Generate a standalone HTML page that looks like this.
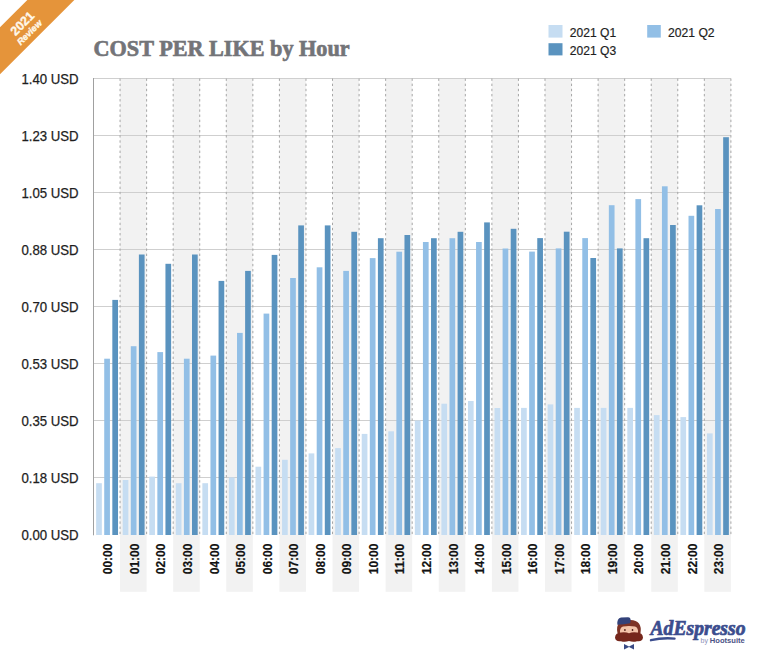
<!DOCTYPE html>
<html><head><meta charset="utf-8">
<style>
html,body{margin:0;padding:0;background:#fff;}
body{width:768px;height:655px;overflow:hidden;position:relative;font-family:"Liberation Sans",sans-serif;}
svg{position:absolute;left:0;top:0;}
.yl{font-family:"Liberation Sans",sans-serif;font-size:14.2px;fill:#1e1e1e;stroke:#1e1e1e;stroke-width:0.25px;}
.xl{font-family:"Liberation Sans",sans-serif;font-size:13.2px;font-weight:bold;fill:#111;stroke:#111;stroke-width:0.2px;}
.ttl{font-family:"Liberation Serif",serif;font-size:23.5px;font-weight:bold;fill:#737478;stroke:#737478;stroke-width:0.7px;}
.lg{font-family:"Liberation Sans",sans-serif;font-size:12.4px;fill:#1e1e1e;stroke:#1e1e1e;stroke-width:0.2px;}
</style></head><body>
<svg width="768" height="655" viewBox="0 0 768 655">
<rect width="768" height="655" fill="#fff"/>
<rect x="120.06" y="78.50" width="26.56" height="513.30" fill="#F2F2F2"/>
<rect x="173.18" y="78.50" width="26.56" height="513.30" fill="#F2F2F2"/>
<rect x="226.29" y="78.50" width="26.56" height="513.30" fill="#F2F2F2"/>
<rect x="279.41" y="78.50" width="26.56" height="513.30" fill="#F2F2F2"/>
<rect x="332.52" y="78.50" width="26.56" height="513.30" fill="#F2F2F2"/>
<rect x="385.64" y="78.50" width="26.56" height="513.30" fill="#F2F2F2"/>
<rect x="438.76" y="78.50" width="26.56" height="513.30" fill="#F2F2F2"/>
<rect x="491.88" y="78.50" width="26.56" height="513.30" fill="#F2F2F2"/>
<rect x="544.99" y="78.50" width="26.56" height="513.30" fill="#F2F2F2"/>
<rect x="598.11" y="78.50" width="26.56" height="513.30" fill="#F2F2F2"/>
<rect x="651.23" y="78.50" width="26.56" height="513.30" fill="#F2F2F2"/>
<rect x="704.34" y="78.50" width="26.56" height="513.30" fill="#F2F2F2"/>
<line x1="93.50" y1="78.50" x2="730.90" y2="78.50" stroke="#CFCFCF" stroke-width="1"/>
<line x1="93.50" y1="135.50" x2="730.90" y2="135.50" stroke="#CFCFCF" stroke-width="1"/>
<line x1="93.50" y1="192.50" x2="730.90" y2="192.50" stroke="#CFCFCF" stroke-width="1"/>
<line x1="93.50" y1="249.50" x2="730.90" y2="249.50" stroke="#CFCFCF" stroke-width="1"/>
<line x1="93.50" y1="306.50" x2="730.90" y2="306.50" stroke="#CFCFCF" stroke-width="1"/>
<line x1="93.50" y1="363.50" x2="730.90" y2="363.50" stroke="#CFCFCF" stroke-width="1"/>
<line x1="93.50" y1="420.50" x2="730.90" y2="420.50" stroke="#CFCFCF" stroke-width="1"/>
<line x1="93.50" y1="477.50" x2="730.90" y2="477.50" stroke="#CFCFCF" stroke-width="1"/>
<line x1="120.06" y1="78.50" x2="120.06" y2="535.00" stroke="#A6A6A6" stroke-width="1" stroke-dasharray="2.4 2.75"/>
<line x1="146.62" y1="78.50" x2="146.62" y2="535.00" stroke="#A6A6A6" stroke-width="1" stroke-dasharray="2.4 2.75"/>
<line x1="173.18" y1="78.50" x2="173.18" y2="535.00" stroke="#A6A6A6" stroke-width="1" stroke-dasharray="2.4 2.75"/>
<line x1="199.73" y1="78.50" x2="199.73" y2="535.00" stroke="#A6A6A6" stroke-width="1" stroke-dasharray="2.4 2.75"/>
<line x1="226.29" y1="78.50" x2="226.29" y2="535.00" stroke="#A6A6A6" stroke-width="1" stroke-dasharray="2.4 2.75"/>
<line x1="252.85" y1="78.50" x2="252.85" y2="535.00" stroke="#A6A6A6" stroke-width="1" stroke-dasharray="2.4 2.75"/>
<line x1="279.41" y1="78.50" x2="279.41" y2="535.00" stroke="#A6A6A6" stroke-width="1" stroke-dasharray="2.4 2.75"/>
<line x1="305.97" y1="78.50" x2="305.97" y2="535.00" stroke="#A6A6A6" stroke-width="1" stroke-dasharray="2.4 2.75"/>
<line x1="332.52" y1="78.50" x2="332.52" y2="535.00" stroke="#A6A6A6" stroke-width="1" stroke-dasharray="2.4 2.75"/>
<line x1="359.08" y1="78.50" x2="359.08" y2="535.00" stroke="#A6A6A6" stroke-width="1" stroke-dasharray="2.4 2.75"/>
<line x1="385.64" y1="78.50" x2="385.64" y2="535.00" stroke="#A6A6A6" stroke-width="1" stroke-dasharray="2.4 2.75"/>
<line x1="412.20" y1="78.50" x2="412.20" y2="535.00" stroke="#A6A6A6" stroke-width="1" stroke-dasharray="2.4 2.75"/>
<line x1="438.76" y1="78.50" x2="438.76" y2="535.00" stroke="#A6A6A6" stroke-width="1" stroke-dasharray="2.4 2.75"/>
<line x1="465.32" y1="78.50" x2="465.32" y2="535.00" stroke="#A6A6A6" stroke-width="1" stroke-dasharray="2.4 2.75"/>
<line x1="491.88" y1="78.50" x2="491.88" y2="535.00" stroke="#A6A6A6" stroke-width="1" stroke-dasharray="2.4 2.75"/>
<line x1="518.43" y1="78.50" x2="518.43" y2="535.00" stroke="#A6A6A6" stroke-width="1" stroke-dasharray="2.4 2.75"/>
<line x1="544.99" y1="78.50" x2="544.99" y2="535.00" stroke="#A6A6A6" stroke-width="1" stroke-dasharray="2.4 2.75"/>
<line x1="571.55" y1="78.50" x2="571.55" y2="535.00" stroke="#A6A6A6" stroke-width="1" stroke-dasharray="2.4 2.75"/>
<line x1="598.11" y1="78.50" x2="598.11" y2="535.00" stroke="#A6A6A6" stroke-width="1" stroke-dasharray="2.4 2.75"/>
<line x1="624.67" y1="78.50" x2="624.67" y2="535.00" stroke="#A6A6A6" stroke-width="1" stroke-dasharray="2.4 2.75"/>
<line x1="651.23" y1="78.50" x2="651.23" y2="535.00" stroke="#A6A6A6" stroke-width="1" stroke-dasharray="2.4 2.75"/>
<line x1="677.78" y1="78.50" x2="677.78" y2="535.00" stroke="#A6A6A6" stroke-width="1" stroke-dasharray="2.4 2.75"/>
<line x1="704.34" y1="78.50" x2="704.34" y2="535.00" stroke="#A6A6A6" stroke-width="1" stroke-dasharray="2.4 2.75"/>
<line x1="730.90" y1="78.50" x2="730.90" y2="535.00" stroke="#A6A6A6" stroke-width="1" stroke-dasharray="2.4 2.75"/>
<rect x="96.13" y="483.20" width="5.70" height="51.80" fill="#C6DDF2"/>
<rect x="104.23" y="358.70" width="5.70" height="176.30" fill="#92BFE6"/>
<rect x="112.33" y="299.90" width="5.70" height="235.10" fill="#5A93BF"/>
<rect x="122.69" y="480.00" width="5.70" height="55.00" fill="#C6DDF2"/>
<rect x="130.79" y="346.20" width="5.70" height="188.80" fill="#92BFE6"/>
<rect x="138.89" y="254.50" width="5.70" height="280.50" fill="#5A93BF"/>
<rect x="149.25" y="476.60" width="5.70" height="58.40" fill="#C6DDF2"/>
<rect x="157.35" y="352.10" width="5.70" height="182.90" fill="#92BFE6"/>
<rect x="165.45" y="263.80" width="5.70" height="271.20" fill="#5A93BF"/>
<rect x="175.80" y="483.20" width="5.70" height="51.80" fill="#C6DDF2"/>
<rect x="183.90" y="358.70" width="5.70" height="176.30" fill="#92BFE6"/>
<rect x="192.00" y="254.50" width="5.70" height="280.50" fill="#5A93BF"/>
<rect x="202.36" y="483.20" width="5.70" height="51.80" fill="#C6DDF2"/>
<rect x="210.46" y="355.60" width="5.70" height="179.40" fill="#92BFE6"/>
<rect x="218.56" y="280.90" width="5.70" height="254.10" fill="#5A93BF"/>
<rect x="228.92" y="477.40" width="5.70" height="57.60" fill="#C6DDF2"/>
<rect x="237.02" y="332.90" width="5.70" height="202.10" fill="#92BFE6"/>
<rect x="245.12" y="270.90" width="5.70" height="264.10" fill="#5A93BF"/>
<rect x="255.48" y="466.70" width="5.70" height="68.30" fill="#C6DDF2"/>
<rect x="263.58" y="313.60" width="5.70" height="221.40" fill="#92BFE6"/>
<rect x="271.68" y="254.90" width="5.70" height="280.10" fill="#5A93BF"/>
<rect x="282.04" y="459.80" width="5.70" height="75.20" fill="#C6DDF2"/>
<rect x="290.14" y="278.00" width="5.70" height="257.00" fill="#92BFE6"/>
<rect x="298.24" y="225.40" width="5.70" height="309.60" fill="#5A93BF"/>
<rect x="308.60" y="453.40" width="5.70" height="81.60" fill="#C6DDF2"/>
<rect x="316.70" y="267.30" width="5.70" height="267.70" fill="#92BFE6"/>
<rect x="324.80" y="225.40" width="5.70" height="309.60" fill="#5A93BF"/>
<rect x="335.15" y="448.10" width="5.70" height="86.90" fill="#C6DDF2"/>
<rect x="343.25" y="270.90" width="5.70" height="264.10" fill="#92BFE6"/>
<rect x="351.35" y="231.80" width="5.70" height="303.20" fill="#5A93BF"/>
<rect x="361.71" y="433.90" width="5.70" height="101.10" fill="#C6DDF2"/>
<rect x="369.81" y="258.10" width="5.70" height="276.90" fill="#92BFE6"/>
<rect x="377.91" y="238.20" width="5.70" height="296.80" fill="#5A93BF"/>
<rect x="388.27" y="431.30" width="5.70" height="103.70" fill="#C6DDF2"/>
<rect x="396.37" y="251.70" width="5.70" height="283.30" fill="#92BFE6"/>
<rect x="404.47" y="235.00" width="5.70" height="300.00" fill="#5A93BF"/>
<rect x="414.83" y="420.50" width="5.70" height="114.50" fill="#C6DDF2"/>
<rect x="422.93" y="242.00" width="5.70" height="293.00" fill="#92BFE6"/>
<rect x="431.03" y="238.20" width="5.70" height="296.80" fill="#5A93BF"/>
<rect x="441.39" y="403.70" width="5.70" height="131.30" fill="#C6DDF2"/>
<rect x="449.49" y="238.20" width="5.70" height="296.80" fill="#92BFE6"/>
<rect x="457.59" y="231.80" width="5.70" height="303.20" fill="#5A93BF"/>
<rect x="467.95" y="401.00" width="5.70" height="134.00" fill="#C6DDF2"/>
<rect x="476.05" y="242.00" width="5.70" height="293.00" fill="#92BFE6"/>
<rect x="484.15" y="222.40" width="5.70" height="312.60" fill="#5A93BF"/>
<rect x="494.50" y="408.00" width="5.70" height="127.00" fill="#C6DDF2"/>
<rect x="502.60" y="248.50" width="5.70" height="286.50" fill="#92BFE6"/>
<rect x="510.70" y="228.80" width="5.70" height="306.20" fill="#5A93BF"/>
<rect x="521.06" y="407.90" width="5.70" height="127.10" fill="#C6DDF2"/>
<rect x="529.16" y="251.60" width="5.70" height="283.40" fill="#92BFE6"/>
<rect x="537.26" y="238.10" width="5.70" height="296.90" fill="#5A93BF"/>
<rect x="547.62" y="404.40" width="5.70" height="130.60" fill="#C6DDF2"/>
<rect x="555.72" y="248.40" width="5.70" height="286.60" fill="#92BFE6"/>
<rect x="563.82" y="231.70" width="5.70" height="303.30" fill="#5A93BF"/>
<rect x="574.18" y="407.90" width="5.70" height="127.10" fill="#C6DDF2"/>
<rect x="582.28" y="238.10" width="5.70" height="296.90" fill="#92BFE6"/>
<rect x="590.38" y="258.00" width="5.70" height="277.00" fill="#5A93BF"/>
<rect x="600.74" y="407.90" width="5.70" height="127.10" fill="#C6DDF2"/>
<rect x="608.84" y="205.20" width="5.70" height="329.80" fill="#92BFE6"/>
<rect x="616.94" y="248.40" width="5.70" height="286.60" fill="#5A93BF"/>
<rect x="627.30" y="407.90" width="5.70" height="127.10" fill="#C6DDF2"/>
<rect x="635.40" y="199.10" width="5.70" height="335.90" fill="#92BFE6"/>
<rect x="643.50" y="238.20" width="5.70" height="296.80" fill="#5A93BF"/>
<rect x="653.85" y="415.10" width="5.70" height="119.90" fill="#C6DDF2"/>
<rect x="661.95" y="186.30" width="5.70" height="348.70" fill="#92BFE6"/>
<rect x="670.05" y="225.00" width="5.70" height="310.00" fill="#5A93BF"/>
<rect x="680.41" y="417.10" width="5.70" height="117.90" fill="#C6DDF2"/>
<rect x="688.51" y="215.80" width="5.70" height="319.20" fill="#92BFE6"/>
<rect x="696.61" y="205.30" width="5.70" height="329.70" fill="#5A93BF"/>
<rect x="706.97" y="433.40" width="5.70" height="101.60" fill="#C6DDF2"/>
<rect x="715.07" y="209.00" width="5.70" height="326.00" fill="#92BFE6"/>
<rect x="723.17" y="137.20" width="5.70" height="397.80" fill="#5A93BF"/>
<line x1="93.50" y1="78.00" x2="93.50" y2="535.30" stroke="#A0A0A0" stroke-width="1"/>
<text x="78.6" y="83.90" text-anchor="end" class="yl" textLength="57.2" lengthAdjust="spacingAndGlyphs">1.40 USD</text>
<text x="78.6" y="140.90" text-anchor="end" class="yl" textLength="57.2" lengthAdjust="spacingAndGlyphs">1.23 USD</text>
<text x="78.6" y="197.90" text-anchor="end" class="yl" textLength="57.2" lengthAdjust="spacingAndGlyphs">1.05 USD</text>
<text x="78.6" y="254.90" text-anchor="end" class="yl" textLength="57.2" lengthAdjust="spacingAndGlyphs">0.88 USD</text>
<text x="78.6" y="311.90" text-anchor="end" class="yl" textLength="57.2" lengthAdjust="spacingAndGlyphs">0.70 USD</text>
<text x="78.6" y="368.90" text-anchor="end" class="yl" textLength="57.2" lengthAdjust="spacingAndGlyphs">0.53 USD</text>
<text x="78.6" y="425.90" text-anchor="end" class="yl" textLength="57.2" lengthAdjust="spacingAndGlyphs">0.35 USD</text>
<text x="78.6" y="482.90" text-anchor="end" class="yl" textLength="57.2" lengthAdjust="spacingAndGlyphs">0.18 USD</text>
<text x="78.6" y="539.90" text-anchor="end" class="yl" textLength="57.2" lengthAdjust="spacingAndGlyphs">0.00 USD</text>
<text transform="translate(112.28,543.6) rotate(-90)" text-anchor="end" class="xl" textLength="30.6" lengthAdjust="spacingAndGlyphs">00:00</text>
<text transform="translate(138.84,543.6) rotate(-90)" text-anchor="end" class="xl" textLength="30.6" lengthAdjust="spacingAndGlyphs">01:00</text>
<text transform="translate(165.40,543.6) rotate(-90)" text-anchor="end" class="xl" textLength="30.6" lengthAdjust="spacingAndGlyphs">02:00</text>
<text transform="translate(191.95,543.6) rotate(-90)" text-anchor="end" class="xl" textLength="30.6" lengthAdjust="spacingAndGlyphs">03:00</text>
<text transform="translate(218.51,543.6) rotate(-90)" text-anchor="end" class="xl" textLength="30.6" lengthAdjust="spacingAndGlyphs">04:00</text>
<text transform="translate(245.07,543.6) rotate(-90)" text-anchor="end" class="xl" textLength="30.6" lengthAdjust="spacingAndGlyphs">05:00</text>
<text transform="translate(271.63,543.6) rotate(-90)" text-anchor="end" class="xl" textLength="30.6" lengthAdjust="spacingAndGlyphs">06:00</text>
<text transform="translate(298.19,543.6) rotate(-90)" text-anchor="end" class="xl" textLength="30.6" lengthAdjust="spacingAndGlyphs">07:00</text>
<text transform="translate(324.75,543.6) rotate(-90)" text-anchor="end" class="xl" textLength="30.6" lengthAdjust="spacingAndGlyphs">08:00</text>
<text transform="translate(351.30,543.6) rotate(-90)" text-anchor="end" class="xl" textLength="30.6" lengthAdjust="spacingAndGlyphs">09:00</text>
<text transform="translate(377.86,543.6) rotate(-90)" text-anchor="end" class="xl" textLength="30.6" lengthAdjust="spacingAndGlyphs">10:00</text>
<text transform="translate(404.42,543.6) rotate(-90)" text-anchor="end" class="xl" textLength="30.6" lengthAdjust="spacingAndGlyphs">11:00</text>
<text transform="translate(430.98,543.6) rotate(-90)" text-anchor="end" class="xl" textLength="30.6" lengthAdjust="spacingAndGlyphs">12:00</text>
<text transform="translate(457.54,543.6) rotate(-90)" text-anchor="end" class="xl" textLength="30.6" lengthAdjust="spacingAndGlyphs">13:00</text>
<text transform="translate(484.10,543.6) rotate(-90)" text-anchor="end" class="xl" textLength="30.6" lengthAdjust="spacingAndGlyphs">14:00</text>
<text transform="translate(510.65,543.6) rotate(-90)" text-anchor="end" class="xl" textLength="30.6" lengthAdjust="spacingAndGlyphs">15:00</text>
<text transform="translate(537.21,543.6) rotate(-90)" text-anchor="end" class="xl" textLength="30.6" lengthAdjust="spacingAndGlyphs">16:00</text>
<text transform="translate(563.77,543.6) rotate(-90)" text-anchor="end" class="xl" textLength="30.6" lengthAdjust="spacingAndGlyphs">17:00</text>
<text transform="translate(590.33,543.6) rotate(-90)" text-anchor="end" class="xl" textLength="30.6" lengthAdjust="spacingAndGlyphs">18:00</text>
<text transform="translate(616.89,543.6) rotate(-90)" text-anchor="end" class="xl" textLength="30.6" lengthAdjust="spacingAndGlyphs">19:00</text>
<text transform="translate(643.45,543.6) rotate(-90)" text-anchor="end" class="xl" textLength="30.6" lengthAdjust="spacingAndGlyphs">20:00</text>
<text transform="translate(670.00,543.6) rotate(-90)" text-anchor="end" class="xl" textLength="30.6" lengthAdjust="spacingAndGlyphs">21:00</text>
<text transform="translate(696.56,543.6) rotate(-90)" text-anchor="end" class="xl" textLength="30.6" lengthAdjust="spacingAndGlyphs">22:00</text>
<text transform="translate(723.12,543.6) rotate(-90)" text-anchor="end" class="xl" textLength="30.6" lengthAdjust="spacingAndGlyphs">23:00</text>
<!-- title -->
<text x="93.6" y="55.6" class="ttl" textLength="256" lengthAdjust="spacingAndGlyphs">COST PER LIKE by Hour</text>
<!-- legend -->
<rect x="548.5" y="25" width="14" height="12.6" fill="#C6DDF2"/>
<text x="569.8" y="36.9" class="lg" textLength="46.3" lengthAdjust="spacingAndGlyphs">2021 Q1</text>
<rect x="647.2" y="25" width="13.6" height="12.6" fill="#92BFE6"/>
<text x="668.0" y="36.9" class="lg" textLength="46.6" lengthAdjust="spacingAndGlyphs">2021 Q2</text>
<rect x="548.5" y="43.2" width="14" height="12.2" fill="#5A93BF"/>
<text x="569.8" y="54.6" class="lg" textLength="46.3" lengthAdjust="spacingAndGlyphs">2021 Q3</text>
<!-- ribbon -->
<polygon points="0,0 0,0 27.3,0 74.3,0 0,74.3 0,27.3" fill="#E5943A"/>
<polygon points="0,0 27.3,0 0,27.3" fill="#fff"/>
<text transform="translate(22.5,23.5) rotate(-45)" text-anchor="middle" font-family="Liberation Sans" font-weight="bold" font-size="12.5" fill="#FFF8EA" stroke="#FFF8EA" stroke-width="0.35" dy="4">2021</text>
<text transform="translate(29.5,32.5) rotate(-45)" text-anchor="middle" font-family="Liberation Sans" font-weight="bold" font-style="italic" font-size="9" fill="#FFF8EA" stroke="#FFF8EA" stroke-width="0.35" dy="3">Review</text>
<!-- logo -->
<g>
 <path d="M617.5,633 Q616,626 619.5,622.5 Q623,619.5 629,620 Q636,619.5 639,623.5 Q641.5,627 640.5,633 Z" fill="#7E3325"/>
 <path d="M617.3,624.8 Q616.8,618.5 621,617.6 L628,617.2 Q631,617.4 630.6,620.5 L630.2,623.2 Q624,624.6 617.3,624.8Z" fill="#33427A"/>
 <path d="M620,633 Q619.5,627.5 623,626.5 Q629,625.3 635,626.5 Q638.5,627.5 638,633 Z" fill="#F3C3A9"/>
 <rect x="624.2" y="629" width="1.4" height="2" fill="#5a2a20"/>
 <rect x="631.8" y="629" width="1.4" height="2" fill="#5a2a20"/>
 <path d="M615,637.5 Q615.5,632.5 621,632.5 Q626,632 629,633.2 Q632,632 637,632.5 Q642.5,632.5 643,637.5 Q642.5,642 637,641.2 Q633,642.5 629,641 Q625,642.5 621,641.2 Q615.5,642 615,637.5Z" fill="#76271C"/>
 <path d="M624,644 L629,646.5 L634,644 L634,649.5 L629,647 L624,649.5Z" fill="#3A4B85"/>
</g>
<text x="650.5" y="635" font-family="Liberation Serif" font-weight="bold" font-style="italic" font-size="20" fill="#3B4D8E" stroke="#3B4D8E" stroke-width="0.7" stroke-linejoin="round" textLength="95" lengthAdjust="spacingAndGlyphs">AdEspresso</text>
<path d="M651,640.2 Q662,637.6 674.5,638.6" stroke="#3B4D8E" stroke-width="2.4" fill="none" stroke-linecap="round"/>
<text x="700.5" y="642.6" font-family="Liberation Sans" font-size="7" fill="#8A8FB8">by</text>
<text x="709.8" y="642.6" font-family="Liberation Sans" font-weight="bold" font-size="7.2" fill="#4B5285" textLength="35" lengthAdjust="spacingAndGlyphs">Hootsuite</text>
</svg>
</body></html>
